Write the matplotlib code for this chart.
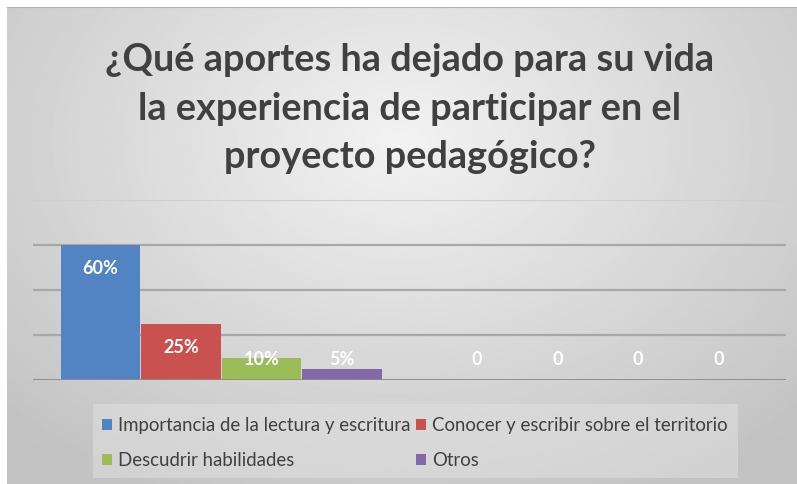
import numpy as np
import matplotlib.pyplot as plt
from matplotlib.patches import Rectangle

# survey answers, two category groups (second group is empty)
groups = ["A", "B"]
series = ["Importancia de la lectura y escritura",
          "Conocer y escribir sobre el territorio",
          "Descudrir habilidades",
          "Otros"]
values = [[60, 0], [25, 0], [10, 0], [5, 0]]
labels = [["60%", "0"], ["25%", "0"], ["10%", "0"], ["5%", "0"]]
colors = ["#5283c2", "#c9514f", "#9cbc5a", "#8469a8"]

title_lines = ["¿Qué aportes ha dejado para su vida",
               "la experiencia de participar en el",
               "proyecto pedagógico?"]

W, H = 797, 484
fig = plt.figure(figsize=(W / 100, H / 100), dpi=100)
fig.patch.set_facecolor("white")

# grey radial gradient panel
bg = fig.add_axes([7 / W, 0, (W - 7) / W, (H - 7) / H])
bg.set_axis_off()
yy, xx = np.mgrid[0:1:300j, 0:1:500j]
r = np.sqrt(((xx - 0.5) / 0.75) ** 2 + ((yy - 0.28) / 0.9) ** 2)
shade = np.clip(0.95 - 0.2 * r, 0.76, 0.95)
bg.imshow(shade, cmap="gray", vmin=0, vmax=1, extent=[0, 1, 1, 0],
          aspect="auto", interpolation="bilinear")
bg.plot([0, 1], [0.001, 0.001], color="#b0b0b0", lw=1.5)
bg.set_xlim(0, 1)
bg.set_ylim(1, 0)

plt.rcParams["font.family"] = ["Lato", "DejaVu Sans"]

for i, line in enumerate(title_lines):
    fig.text(410 / W, 1 - [60, 109, 157][i] / H, line, ha="center", va="center",
             fontsize=27.3, fontweight="bold", color="#404040")

ax = fig.add_axes([33 / W, (H - 380) / H, (786 - 33) / W, 180 / H])
ax.set_facecolor("none")
x = np.arange(len(groups))
w = 0.214
handles = []
for k in range(len(series)):
    pos = x + (k - 1.5) * w
    b = ax.bar(pos, values[k], width=w * 0.99, color=colors[k], label=series[k], zorder=3)
    handles.append(b)
    for p, v, t in zip(pos, values[k], labels[k]):
        ax.text(p, max(v - 10.5, 9), t, ha="center", va="center", color="white",
                fontsize=13, fontweight="bold", zorder=4)

ax.set_xlim(-0.5, 1.5)
ax.set_ylim(0, 80)
for g, c in zip([20, 40, 60, 80], ["#a8a8a8", "#a8a8a8", "#a8a8a8", "#cfcfcf"]):
    ax.axhline(g, color=c, lw=1.6, zorder=1)
ax.axhline(0, color="#8a8a8a", lw=2, zorder=5)
ax.set_xticks([])
ax.set_yticks([])
for s in ax.spines.values():
    s.set_visible(False)

# legend on a lighter box, filled row by row
fig.patches.append(Rectangle((93 / W, (H - 478) / H), (738 - 93) / W, 74 / H,
                             transform=fig.transFigure, facecolor="#e2e2e2",
                             edgecolor="none", alpha=0.5, zorder=0))
order = [0, 2, 1, 3]
leg = fig.legend([handles[i] for i in order], [series[i] for i in order],
                 loc="center left", bbox_to_anchor=(85 / W, 1 - 443 / H), ncol=2,
                 frameon=False, fontsize=13.4, handlelength=0.55, handleheight=0.55,
                 handletextpad=0.35, columnspacing=0.25, labelspacing=0.95)
for t in leg.get_texts():
    t.set_color("#404040")

fig.savefig("out.png", dpi=100)
